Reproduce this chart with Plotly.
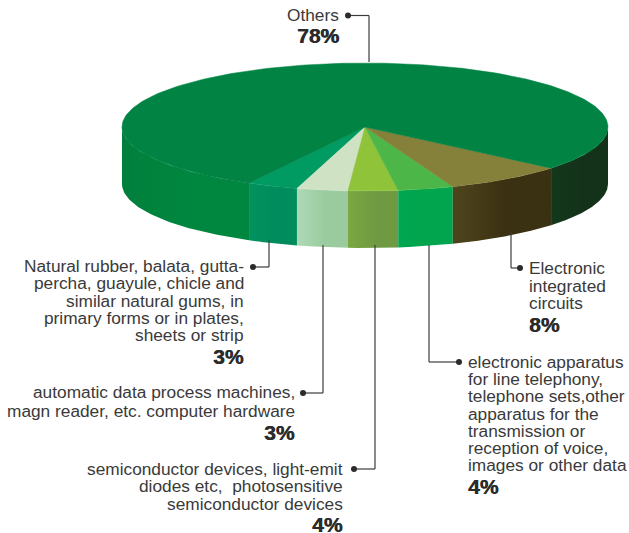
import numpy as np
import plotly.graph_objects as go

# ---- data ----
names = ["Natural rubber", "Data process machines", "Semiconductor devices",
         "Electronic apparatus", "Electronic integrated circuits", "Others"]
labelled_pct = ["3%", "3%", "4%", "4%", "8%", "78%"]
# wedge sizes as actually drawn in the picture (percent of the circle)
drawn_share = [3.4, 3.4, 3.3, 3.7, 8.0, 78.2]

top_colors = ["#009a63", "#cfe3c4", "#8fc33a", "#4cb748", "#85803a", "#008343"]
side_grad = [["#00925f", "#008c5c"], ["#aed9b6", "#9acb9f"], ["#7aa840", "#6f9a42"],
             ["#00a650", "#00a54e"], ["#4f451c", "#3a3012"], ["#12381a", "#14321a"]]
others_left_grad = ["#007f3c", "#00873f"]

label_lines = [
    ["Natural rubber, balata, gutta-", "percha, guayule, chicle and", "similar natural gums, in",
     "primary forms or in plates,", "sheets or strip"],
    ["automatic data process machines,", "magn reader, etc. computer hardware"],
    ["semiconductor devices, light-emit", "diodes etc,  photosensitive", "semiconductor devices"],
    ["electronic apparatus", "for line telephony,", "telephone sets,other", "apparatus for the",
     "transmission or", "reception of voice,", "images or other data"],
    ["Electronic", "integrated", "circuits"],
    ["Others"],
]

# ---- layout geometry (pixels) ----
W, H = 629, 533
CX, CY, RX, RY, DEPTH = 365, 127, 243, 64, 57
START = -28.5
TEXT = "#3a3a3a"
BODY = dict(family="Liberation Sans", size=17.3, color=TEXT)
BOLD = dict(family="Liberation Sans", size=21, color="#2b2b2b", shadow="0.6px 0 0 #2b2b2b")

# per label: anchor, text x, line centres, pct centre, dot, elbow path
blocks = [
    dict(anchor="right", x=244.5, ys=[266, 283, 300.5, 317.5, 335], py=356,
         path=[(253, 267), (269, 267), (269, 240)]),
    dict(anchor="right", x=295.5, ys=[392, 410.5], py=432,
         path=[(303, 393), (323, 393), (323, 245)]),
    dict(anchor="right", x=343.5, ys=[469, 486, 503.5], py=524,
         path=[(354, 469), (375, 469), (375, 245)]),
    dict(anchor="left", x=466.5, ys=[362, 379, 396, 413.5, 431, 448, 465], py=486,
         path=[(459, 362), (429, 362), (429, 245)]),
    dict(anchor="left", x=527.5, ys=[268, 286, 303], py=324,
         path=[(520, 268), (511, 268), (511, 232)]),
    dict(anchor="right", x=340, ys=[15], py=35,
         path=[(348, 15.5), (369, 15.5), (369, 62)]),
]


def rim(a0, a1, n=80):
    t = np.radians(np.linspace(a0, a1, n))
    return CX + RX * np.sin(t), CY + RY * np.cos(t)


edges = START + 360 * np.concatenate([[0], np.cumsum(drawn_share)]) / sum(drawn_share)
fig = go.Figure()


def add_side(a0, a1, grad):
    a0, a1 = max(a0, -90), min(a1, 90)
    x, y = rim(a0, a1)
    fig.add_trace(go.Scatter(
        x=np.r_[x, x[::-1]], y=np.r_[y, y[::-1] + DEPTH], mode="lines", line=dict(width=0),
        fill="toself", hoverinfo="skip",
        fillgradient=dict(type="horizontal",
                          colorscale=[[0, grad[0]], [0.55, grad[1]], [1, grad[1]]])))


add_side(-90, edges[0], others_left_grad)
for i in range(len(drawn_share)):
    add_side(edges[i], edges[i + 1], side_grad[i])

for i in range(len(drawn_share)):
    x, y = rim(edges[i], edges[i + 1], 300 if i == 5 else 60)
    fig.add_trace(go.Scatter(
        x=np.r_[CX, x, CX], y=np.r_[CY, y, CY], mode="lines",
        line=dict(width=0.5, color=top_colors[i]), fill="toself",
        fillcolor=top_colors[i], name=names[i], hoverinfo="name"))

annotations = []
shapes = []
for i, b in enumerate(blocks):
    for line, yy in zip(label_lines[i], b["ys"]):
        annotations.append(dict(x=b["x"], y=yy, text=line, font=BODY))
    annotations.append(dict(x=b["x"], y=b["py"], text="<b>%s</b>" % labelled_pct[i], font=BOLD))
    for a, c in zip(b["path"][:-1], b["path"][1:]):
        shapes.append(dict(type="line", x0=a[0], y0=a[1], x1=c[0], y1=c[1],
                           line=dict(color="#3c3c3c", width=1.2)))
    dx, dy = b["path"][0]
    shapes.append(dict(type="circle", x0=dx - 3, x1=dx + 3, y0=dy - 3, y1=dy + 3,
                       fillcolor="#2b2b2b", line=dict(width=0)))
    for a in annotations:
        if "xanchor" not in a:
            a.update(xanchor=b["anchor"], yanchor="middle", showarrow=False,
                     xref="x", yref="y", align=b["anchor"], borderpad=0)

fig.update_layout(
    width=W, height=H, margin=dict(l=0, r=0, t=0, b=0), showlegend=False,
    paper_bgcolor="white", plot_bgcolor="white",
    xaxis=dict(range=[0, W], visible=False, fixedrange=True),
    yaxis=dict(range=[H, 0], visible=False, fixedrange=True),
    annotations=annotations, shapes=shapes,
)
fig.write_html("out.html", config=dict(displayModeBar=False),
               post_script="document.body.style.margin='0';document.documentElement.style.overflow='hidden';")
